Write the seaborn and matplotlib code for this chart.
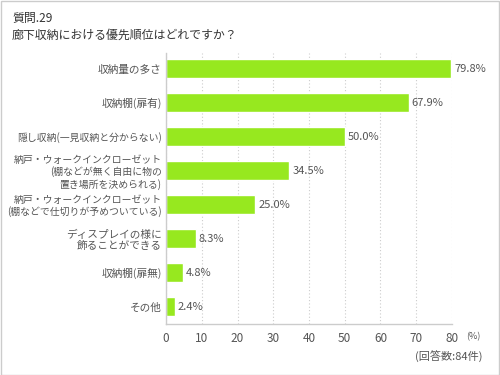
import matplotlib
matplotlib.use("Agg")
import matplotlib.pyplot as plt
import seaborn as sns
import pandas as pd

# data
categories = [
    "収納量の多さ",
    "収納棚(扉有)",
    "隠し収納(一見収納と分からない)",
    "納戸・ウォークインクローゼット\n(棚などが無く自由に物の\n置き場所を決められる)",
    "納戸・ウォークインクローゼット\n(棚などで仕切りが予めついている)",
    "ディスプレイの様に\n飾ることができる",
    "収納棚(扉無)",
    "その他",
]
values = [79.8, 67.9, 50.0, 34.5, 25.0, 8.3, 4.8, 2.4]
x_ticks = [0, 10, 20, 30, 40, 50, 60, 70, 80]

df = pd.DataFrame({"item": categories, "pct": values})

sns.set_style("white")
plt.rcParams["font.family"] = ["Noto Sans CJK JP", "DejaVu Sans"]

bar_color = "#97e81f"
txt = "#555555"

fig = plt.figure(figsize=(5, 3.75), dpi=100)
ax = fig.add_axes((0.332, 0.136, 0.572, 0.723))

sns.barplot(data=df, x="pct", y="item", color=bar_color, saturation=1,
            width=0.55, ax=ax)

ax.set_xlim(0, 80)
ax.set_ylim(7.51, -0.46)
ax.set_xticks(x_ticks)
ax.set_xticklabels([str(t) for t in x_ticks], fontsize=8.5, color=txt)
ax.set_xlabel("")
ax.set_ylabel("")
ax.tick_params(axis="y", length=0, pad=3, labelsize=7.7, labelcolor=txt)
ax.tick_params(axis="x", length=0, pad=6)
for lab in ax.get_yticklabels():
    lab.set_horizontalalignment("right")
    lab.set_multialignment("right")
    lab.set_linespacing(1.15)
    # the long closet labels need a bit less room to fit
    if max(len(s) for s in lab.get_text().split("\n")) > 14:
        lab.set_fontsize(7.1)

ax.grid(axis="x", color="#cccccc", linestyle=(0, (1, 2)), linewidth=0.8)
ax.set_axisbelow(True)
for side in ["top", "right"]:
    ax.spines[side].set_visible(False)
for side in ["left", "bottom"]:
    ax.spines[side].set_color("#cccccc")
    ax.spines[side].set_linewidth(1)

for i, v in enumerate(values):
    ax.text(v + 0.8, i, f"{v:.1f}%", va="center", ha="left",
            fontsize=8, color=txt)

fig.text(0.024, 0.950, "質問.29", fontsize=8.6, color="#333333", va="center")
fig.text(0.024, 0.905, "廊下収納における優先順位はどれですか？", fontsize=8.6,
         color="#333333", va="center")
fig.text(0.932, 0.101, "(%)", fontsize=6.5, color=txt, va="center")
fig.text(0.966, 0.047, "(回答数:84件)", fontsize=8, color=txt,
         va="center", ha="right")

# thin frame around the whole picture
fig.patches.append(plt.Rectangle((0.001, 0.001), 0.997, 0.996,
                                 transform=fig.transFigure, fill=False,
                                 edgecolor="#cccccc", linewidth=1))

fig.savefig("out.png", dpi=100)
